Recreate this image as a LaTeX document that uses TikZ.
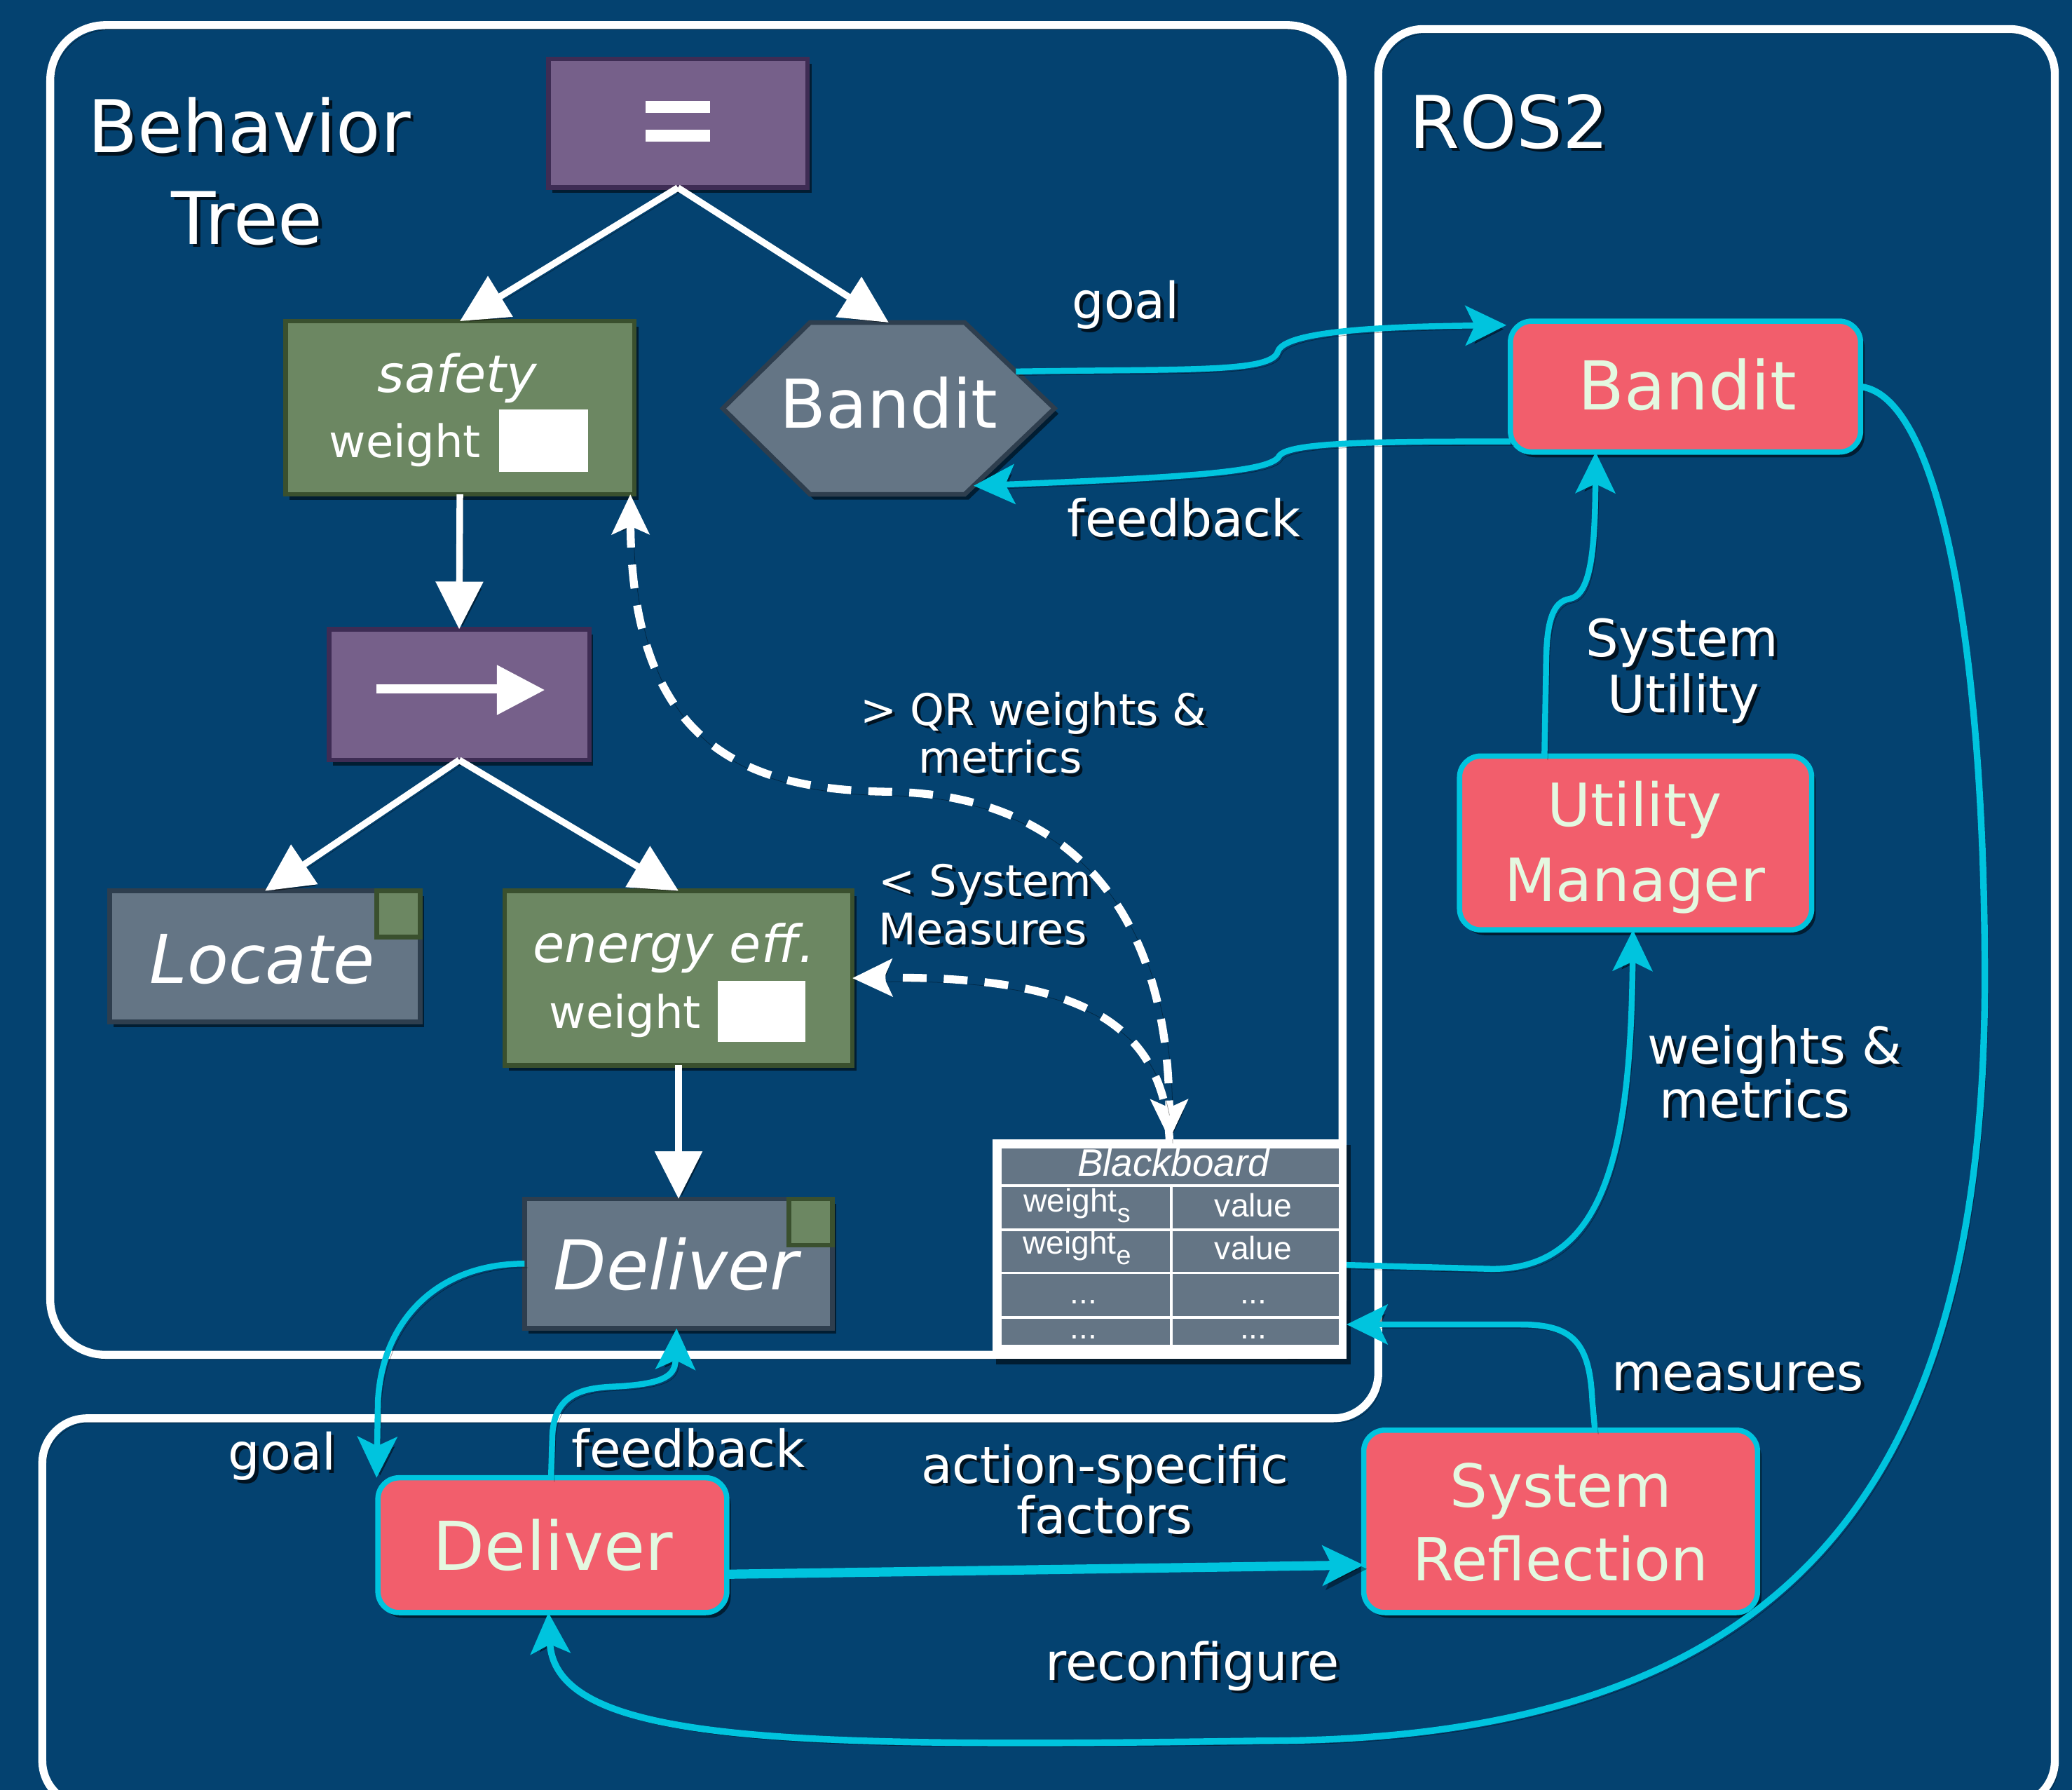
\documentclass[tikz,border=0pt]{standalone}
\usepackage{fontspec}
\setmainfont{DejaVu Sans}[ItalicFont={DejaVu Sans Oblique}]
\newfontfamily\tabfont{Liberation Sans}
\usetikzlibrary{arrows.meta,shadows,calc}
\definecolor{bgblue}{RGB}{4,66,112}
\definecolor{seqfill}{RGB}{118,96,138}
\definecolor{seqdraw}{RGB}{62,44,84}
\definecolor{grnfill}{RGB}{108,135,98}
\definecolor{grndraw}{RGB}{58,80,46}
\definecolor{actfill}{RGB}{100,117,133}
\definecolor{actdraw}{RGB}{46,62,78}
\definecolor{rosfill}{RGB}{242,94,108}
\definecolor{roscyan}{RGB}{0,196,222}
\definecolor{rostext}{RGB}{228,248,224}
\definecolor{txtshadow}{RGB}{1,18,32}
\newcommand{\fsz}[1]{\fontsize{#1pt}{#1pt}\selectfont}
\newcommand{\shtext}[1]{\makebox[0pt][l]{\hspace{2.5pt}\raisebox{-2.5pt}{\textcolor{txtshadow}{#1}}}#1}
\tikzset{
  every node/.style={inner sep=0pt, outer sep=0pt},
  container/.style={draw=white, line width=6pt, rounded corners=#1,
    preaction={draw=black, opacity=0.45, transform canvas={shift={(2.5pt,-3.5pt)}}}},
  boxshadow/.style={drop shadow={shadow xshift=3pt, shadow yshift=-4pt, opacity=0.55, fill=black}},
  btbox/.style={rectangle, line width=3.5pt, boxshadow},
  seqbox/.style={btbox, fill=seqfill, draw=seqdraw},
  grnbox/.style={btbox, fill=grnfill, draw=grndraw},
  actbox/.style={btbox, fill=actfill, draw=actdraw},
  rosbox/.style={rectangle, rounded corners=16pt, fill=rosfill, draw=roscyan, line width=4pt, boxshadow},
  lineshadow/.style={preaction={draw=black, opacity=0.4, transform canvas={shift={(2.5pt,-3pt)}}}},
  treearrow/.style={draw=white, line width=5pt, -{Triangle[length=36pt,width=35pt]}, lineshadow},
  cyanarrow/.style={draw=roscyan, line width=4.5pt, -{Stealth[length=31pt,width=30pt,inset=7pt]}, lineshadow},
  dasharrow/.style={draw=white, line width=6pt, dash pattern=on 18pt off 13pt, lineshadow},
  lbl/.style={text=white, anchor=base},
  rostxt/.style={text=rostext, anchor=base, font=\fsz{45}},
  tabtxt/.style={text=white, anchor=base, font=\tabfont\fsz{24.5}},
}
\begin{document}
\begin{tikzpicture}[x=1pt,y=-1pt]
\fill[bgblue] (0,0) rectangle (1568,1354.2);
\useasboundingbox (0,0) rectangle (1568,1354.2);

% containers
\draw[container=42pt] (38,19) rectangle (1016,1025);
\draw[container=34pt] (1300,22) -- (1555,22) -- (1555,1366) -- (32,1366) -- (32,1073) -- (1043,1073) -- (1043,22) -- cycle;

% behavior tree nodes
\node[seqbox, minimum width=196pt, minimum height=97.5pt] (par) at (513,93.25) {};
\node[grnbox, minimum width=264pt, minimum height=131pt] (safety) at (348,308.5) {};
\node[minimum width=251pt, minimum height=130pt] (bhex) at (672.5,309) {};
\filldraw[fill=actfill, draw=actdraw, line width=3.5pt, boxshadow] (bhex.west) -- ([xshift=66pt]bhex.north west) -- ([xshift=-68pt]bhex.north east) -- (bhex.east) -- ([xshift=-68pt]bhex.south east) -- ([xshift=66pt]bhex.south west) -- cycle;
\node[seqbox, minimum width=197pt, minimum height=99pt] (seq) at (347.5,525.5) {};
\node[actbox, minimum width=235pt, minimum height=99pt] (locate) at (200.5,723.5) {};
\node[grnbox, minimum width=263pt, minimum height=132pt] (energy) at (513.5,740) {};
\node[actbox, minimum width=233pt, minimum height=98pt] (dbt) at (513.5,956) {};
\filldraw[fill=grnfill, draw=grndraw, line width=3.5pt] (locate.north east) rectangle ++(-33,35);
\filldraw[fill=grnfill, draw=grndraw, line width=3.5pt] (dbt.north east) rectangle ++(-33,35);

% parallel "=" and sequence arrow symbols
\fill[white] ($(par.center)+(-24.5,-17)$) rectangle ++(49,9);
\fill[white] ($(par.center)+(-24.5,4.75)$) rectangle ++(49,9);
\fill[white] ($(seq.center)+(-62.5,-8)$) rectangle ($(seq.center)+(30,-1)$);
\fill[white] ($(seq.center)+(28.5,-22.5)$) -- ($(seq.center)+(64.5,-3.5)$) -- ($(seq.center)+(28.5,15.5)$) -- cycle;

% blackboard
\node[rectangle, fill=white, minimum width=268pt, minimum height=166pt, boxshadow] (bb) at (885,945) {};
\fill[actfill] (758,869) rectangle (1013,896);
\fill[actfill] (758,898) rectangle (885.5,929.5);
\fill[actfill] (887.5,898) rectangle (1013,929.5);
\fill[actfill] (758,931.5) rectangle (885.5,962);
\fill[actfill] (887.5,931.5) rectangle (1013,962);
\fill[actfill] (758,964) rectangle (885.5,995.5);
\fill[actfill] (887.5,964) rectangle (1013,995.5);
\fill[actfill] (758,997.5) rectangle (885.5,1017.5);
\fill[actfill] (887.5,997.5) rectangle (1013,1017.5);
\node[tabtxt, font=\tabfont\itshape\fsz{29}] (tbb) at (888,890) {Blackboard};
\node[tabtxt] (tws) at (815,916.8) {weight\raisebox{-8pt}{\fsz{20}s}};
\node[tabtxt] (tvs) at (948.5,920.4) {value};
\node[tabtxt] (twe) at (815,948.6) {weight\raisebox{-8pt}{\fsz{20}e}};
\node[tabtxt] (tve) at (948.5,953) {value};
\node[tabtxt] (td1) at (820,986.5) {...};
\node[tabtxt] (td2) at (948.6,986.5) {...};
\node[tabtxt] (td3) at (820,1013) {...};
\node[tabtxt] (td4) at (948.6,1013) {...};

% ROS2 nodes
\node[rosbox, minimum width=265pt, minimum height=99pt] (rb) at (1275.5,292.5) {};
\node[rosbox, minimum width=266.5pt, minimum height=131.5pt] (um) at (1237.75,637.75) {};
\node[rosbox, minimum width=298pt, minimum height=138pt] (sr) at (1181,1151) {};
\node[rosbox, minimum width=264pt, minimum height=102pt] (dros) at (418,1169) {};

% tree edges
\draw[treearrow] (par.south) -- (safety.north);
\draw[treearrow] (par.south) -- (bhex.north);
\draw[treearrow] (safety.south) -- (seq.north);
\draw[treearrow] (seq.south) -- (locate.north);
\draw[treearrow] (seq.south) -- (energy.north);
\draw[treearrow] (energy.south) -- (dbt.north);

% dashed blackboard links
\draw[dasharrow, {Stealth[length=30pt,width=28pt,inset=6pt]}-{Stealth[length=30pt,width=28pt,inset=6pt]}] ([xshift=-3pt]safety.south east) .. controls (478,560) and (560,598) .. (673,599) .. controls (810,601) and (884,690) .. (bb.north);
\draw[dasharrow, -{Stealth[length=30pt,width=28pt,inset=6pt]}] (bb.north) .. controls (880,770) and (810,738) .. (energy.east);

% cyan connectors
\draw[cyanarrow] ($(bhex.east)!0.43!([xshift=-68pt]bhex.north east)$) .. controls (900,279) and (962,282) .. (967,266) .. controls (972,250) and (1050,247) .. ([xshift=-3pt,yshift=-3pt]rb.north west);
\draw[cyanarrow] ([yshift=8pt]rb.south west) .. controls (1050,334) and (975,334) .. (968,345) .. controls (962,357) and (900,361) .. ($(bhex.east)!0.9!([xshift=-68pt]bhex.south east)$);
\draw[cyanarrow] ([xshift=-69pt]um.north) -- (1170,505) .. controls (1170,470) and (1175,455) .. (1188,453) .. controls (1203,450) and (1207,420) .. ([xshift=-68pt]rb.south);
\draw[cyanarrow] ([yshift=-12pt]bb.east) -- (1129,960) .. controls (1215,960) and (1234,870) .. ([xshift=-2pt]um.south);
\draw[cyanarrow] ([xshift=26pt]sr.north) -- (1205,1060) .. controls (1203,1015) and (1190,1002) .. (1150,1002) -- ([yshift=-57pt]bb.east);
\draw[cyanarrow, line width=5pt] (rb.east) .. controls (1470,300) and (1502,500) .. (1502,740) .. controls (1502,1120) and (1360,1317) .. (955,1317) .. controls (600,1322) and (420,1320) .. ([xshift=-3pt]dros.south);
\draw[cyanarrow] (dbt.west) .. controls (330,956) and (289,1000) .. (286,1060) -- ([xshift=-1pt]dros.north west);
\draw[cyanarrow] ([xshift=-1pt]dros.north) -- (418,1085) .. controls (420,1055) and (440,1050) .. (465,1049) .. controls (505,1047) and (511,1040) .. ([xshift=-1.5pt]dbt.south);
\draw[cyanarrow, line width=7pt] ([yshift=-22pt]dros.east) -- ([yshift=-33pt]sr.west);

% texts in boxes
\node[lbl, font=\itshape\fsz{39}] (tsafety) at (346,297) {safety};
\node[lbl, font=\fsz{34}] (tsafew) at (347,346) {weight\hspace{14pt}\raisebox{-11pt}{\rule{67pt}{47pt}}};
\node[lbl, font=\fsz{51}] (thex) at (672.5,324) {Bandit};
\node[lbl, font=\itshape\fsz{51}] (tloc) at (198.5,744) {Locate};
\node[lbl, font=\itshape\fsz{39}] (tenergy) at (510,728) {energy eff.};
\node[lbl, font=\fsz{34}] (tenw) at (512.5,778) {weight\hspace{13pt}\raisebox{-10pt}{\rule{66pt}{46pt}}};
\node[lbl, font=\itshape\fsz{52}] (tdbt) at (511.5,976) {Deliver};
\node[rostxt, font=\fsz{51}] (trb) at (1277,310) {Bandit};
\node[rostxt] (tum1) at (1237,625) {Utility};
\node[rostxt] (tum2) at (1237,682) {Manager};
\node[rostxt] (tsr1) at (1181,1140) {System};
\node[rostxt] (tsr2) at (1181,1196) {Reflection};
\node[rostxt, font=\fsz{51}] (tdros) at (418.5,1188) {Deliver};

% titles
\node[lbl, font=\fsz{55}] (tbeh) at (188.5,115.5) {\shtext{Behavior}};
\node[lbl, font=\fsz{55}] (ttree) at (187,184.7) {\shtext{Tree}};
\node[lbl, font=\fsz{55}] (tros) at (1142,112) {\shtext{ROS2}};

% connector labels
\node[lbl, font=\fsz{38}] (lgoal1) at (852,241) {\shtext{goal}};
\node[lbl, font=\fsz{38.5}] (lfb1) at (896,406) {\shtext{feedback}};
\node[lbl, font=\fsz{33}] (lqr1) at (782,548.6) {\shtext{> QR weights \&}};
\node[lbl, font=\fsz{33}] (lqr2) at (757,585) {\shtext{metrics}};
\node[lbl, anchor=base west, font=\fsz{33}] (lsm1) at (665,678) {\shtext{< System}};
\node[lbl, anchor=base west, font=\fsz{33}] (lsm2) at (665,714.6) {\shtext{Measures}};
\node[lbl, font=\fsz{39}] (lsu1) at (1273,497) {\shtext{System}};
\node[lbl, font=\fsz{39}] (lsu2) at (1274,539) {\shtext{Utility}};
\node[lbl, font=\fsz{38.5}] (lwm1) at (1343,805) {\shtext{weights \&}};
\node[lbl, font=\fsz{38.5}] (lwm2) at (1328,846) {\shtext{metrics}};
\node[lbl, font=\fsz{39}] (lmeas) at (1315,1052) {\shtext{measures}};
\node[lbl, font=\fsz{38}] (lgoal2) at (213.5,1112) {\shtext{goal}};
\node[lbl, font=\fsz{38.5}] (lfb2) at (521,1110) {\shtext{feedback}};
\node[lbl, font=\fsz{38.5}] (lasf1) at (836,1122) {\shtext{action-specific}};
\node[lbl, font=\fsz{38.5}] (lasf2) at (836,1160.5) {\shtext{factors}};
\node[lbl, font=\fsz{39}] (lrec) at (902.5,1271) {\shtext{reconfigure}};
\end{tikzpicture}
\end{document}
